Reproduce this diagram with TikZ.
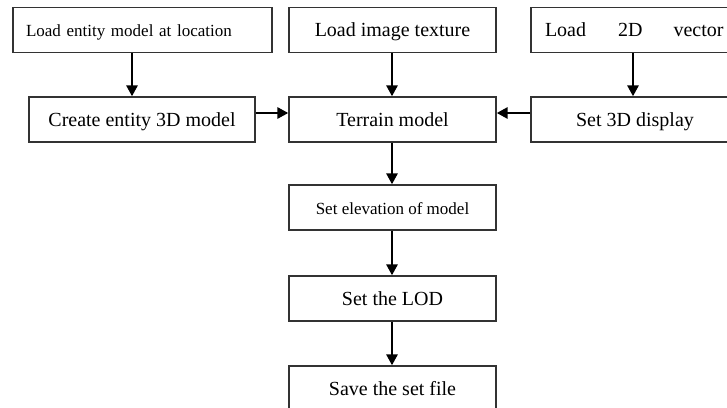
\documentclass[tikz,border=0pt]{standalone}
\usepackage{fontspec}
\setmainfont{Liberation Serif}
\usetikzlibrary{arrows.meta}
\begin{document}
\begin{tikzpicture}[x=1pt,y=-1pt,
  box/.style={draw=black!80,line width=1.3pt,minimum height=45pt,inner sep=0pt,
    text height=15pt,text depth=2pt,font=\fontsize{20}{24}\selectfont},
  smallbox/.style={box,font=\fontsize{17}{20}\selectfont},
  arr/.style={line width=2.8pt,-{Triangle[length=11pt,width=11pt]}}]
\useasboundingbox (0,0) rectangle (727,407);
\clip (0,0) rectangle (727,407);
% top row
\node[smallbox,minimum width=259pt,text width=233pt,align=left,inner xsep=13pt] (A) at (142.5,30) {Load entity model at location};
\node[box,minimum width=207pt] (T) at (392.5,30) {Load image texture};
\node[box,minimum width=208pt,text width=180pt,align=left,inner xsep=14pt] (V) at (635,30) {Load\hspace{32pt}2D\hspace{31pt}vector};
% second row
\node[box,minimum width=226pt] (B) at (142,119.5) {Create entity 3D model};
\node[box,minimum width=207pt] (M) at (392.5,119.5) {Terrain model};
\node[box,minimum width=208pt] (D) at (635,119.5) {Set 3D display};
% column
\node[smallbox,minimum width=207pt] (E) at (392.5,207.5) {Set elevation of model};
\node[box,minimum width=207pt] (L) at (392.5,298.5) {Set the LOD};
\node[box,minimum width=207pt] (S) at (392.5,388.5) {Save the set file};
% helper coordinates
\coordinate (xa) at (132,0);
\coordinate (xv) at (633,0);
\coordinate (xc) at (392,0);
\coordinate (yh) at (0,113);
% arrows
\draw[arr] (A.south -| xa) -- (B.north -| xa);
\draw[arr] (T.south -| xc) -- (M.north -| xc);
\draw[arr] (V.south -| xv) -- (D.north -| xv);
\draw[arr] (B.east |- yh) -- (M.west |- yh);
\draw[arr] (D.west |- yh) -- (M.east |- yh);
\draw[arr] (M.south -| xc) -- (E.north -| xc);
\draw[arr] (E.south -| xc) -- (L.north -| xc);
\draw[arr] (L.south -| xc) -- (S.north -| xc);
\end{tikzpicture}
\end{document}
